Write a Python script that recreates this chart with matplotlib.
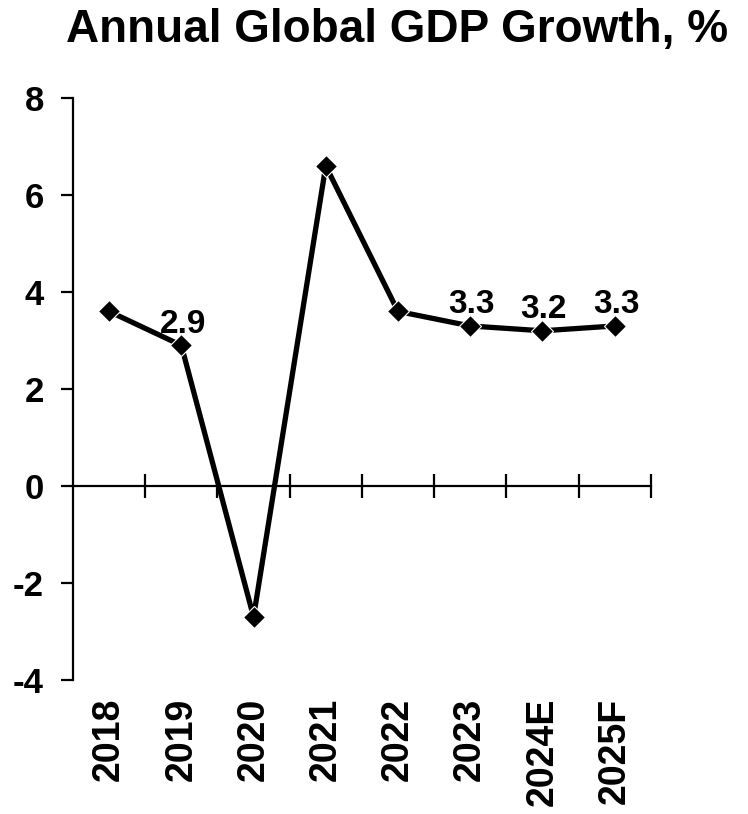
import matplotlib
matplotlib.use("Agg")
import matplotlib.pyplot as plt
import matplotlib.transforms as mtransforms
import numpy as np

plt.rcParams['font.family'] = ['Liberation Sans', 'DejaVu Sans']
plt.rcParams['font.weight'] = 'bold'

years = ['2018', '2019', '2020', '2021', '2022', '2023', '2024E', '2025F']
growth = [3.6, 2.9, -2.7, 6.6, 3.6, 3.3, 3.2, 3.3]
labelled = {'2019': '2.9', '2023': '3.3', '2024E': '3.2', '2025F': '3.3'}

fig = plt.figure(figsize=(7.48, 8.14), dpi=100)
ax = fig.add_axes([0.0976, 0.1646, 0.7724, 0.715])

x = np.arange(len(years))
ax.plot(x, growth, color='black', linewidth=3.8, marker='D', markersize=11,
        markerfacecolor='black', markeredgecolor='white', markeredgewidth=0.8,
        solid_joinstyle='round', zorder=3)

# value labels over some points
for i, yr in enumerate(years):
    if yr in labelled:
        ax.annotate(labelled[yr], (x[i], growth[i]), xytext=(1, 9),
                    textcoords='offset points', ha='center', va='baseline',
                    fontsize=24, fontweight='bold')

ax.set_xlim(-0.5, len(years) - 0.5)
ax.set_ylim(-4, 8)
ax.set_yticks([-4, -2, 0, 2, 4, 6, 8])
ax.set_yticklabels(['-4', '-2', '0', '2', '4', '6', '8'])

ax.spines['top'].set_visible(False)
ax.spines['right'].set_visible(False)
ax.spines['bottom'].set_position(('data', 0))
ax.spines['left'].set_linewidth(1.6)
ax.spines['bottom'].set_linewidth(1.6)

ax.set_xticks(np.arange(len(years)) + 0.5)
ax.set_xticklabels([])
ax.tick_params(axis='x', direction='inout', length=17, width=1.6)
ax.tick_params(axis='y', direction='out', length=9, width=1.6, labelsize=25, pad=12)

# category labels sit below the plot, not on the zero line
trans = mtransforms.blended_transform_factory(ax.transData, ax.transAxes)
for i, yr in enumerate(years):
    ax.text(x[i], -0.03, yr, transform=trans, rotation=90, ha='center', va='top',
            fontsize=27, fontweight='bold')

fig.text(0.531, 0.948, 'Annual Global GDP Growth, %', ha='center', va='baseline',
         fontsize=33, fontweight='bold')

fig.savefig('out.png', dpi=100)
